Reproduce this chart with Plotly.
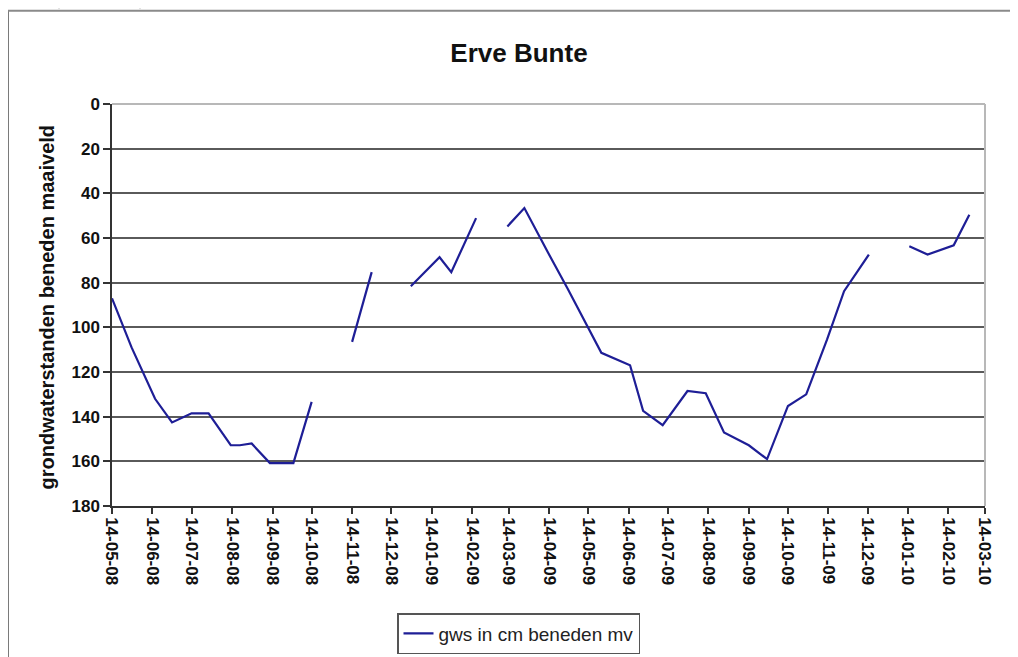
import plotly.graph_objects as go

# ---- data ----
dates = [
    "2008-05-14", "2008-05-29", "2008-06-16", "2008-06-29", "2008-07-14", "2008-07-27",
    "2008-08-13", "2008-08-20", "2008-08-29", "2008-09-12", "2008-09-30", "2008-10-14",
    "2008-10-28",
    "2008-11-14", "2008-11-29",
    "2008-12-14",
    "2008-12-29", "2009-01-20", "2009-01-29", "2009-02-17",
    "2009-03-01",
    "2009-03-13", "2009-03-26", "2009-04-13", "2009-04-28", "2009-05-24", "2009-06-15",
    "2009-06-25", "2009-07-10", "2009-07-29", "2009-08-12", "2009-08-26", "2009-09-14",
    "2009-09-28", "2009-10-14", "2009-10-28", "2009-11-13", "2009-11-26", "2009-12-15",
    "2009-12-30",
    "2010-01-15", "2010-01-29", "2010-02-18", "2010-03-02",
]
gws = [
    87, 109, 132, 142.6, 138.5, 138.5,
    152.8, 152.8, 152, 160.8, 160.8, 133.4,
    None,
    106.5, 75.3,
    None,
    81.6, 68.6, 75.3, 51.1,
    None,
    54.8, 46.6, 66.4, 82.5, 111.4, 117,
    137.4, 143.8, 128.5, 129.5, 147.1, 152.8,
    159, 135.2, 130, 105.4, 83.8, 67.4,
    None,
    63.7, 67.4, 63.3, 49.6,
]
series_name = "gws in cm beneden mv"
title_text = "Erve Bunte"
y_title = "grondwaterstanden beneden maaiveld"
x_start, x_end = "2008-05-14", "2010-03-14"

W, H = 1018, 657
OFF = 8  # page offset of the figure in the browser
# plot area in screen pixels
SX0, SX1, SY0, SY1 = 112, 985, 104, 507
L = SX0 - OFF
T = SY0 - OFF
R = W - (SX1 - OFF)
B = H - (SY1 - OFF)
PW, PH = SX1 - SX0, SY1 - SY0

def px(x):
    return (x - SX0) / PW

def py(y):
    return (SY1 - y) / PH

fig = go.Figure()
fig.add_trace(go.Scatter(
    x=dates, y=gws, mode="lines", name=series_name,
    line=dict(color="#1e1e96", width=2.2), connectgaps=False,
))

font_family = "Liberation Sans, Arial, sans-serif"

shapes = [
    dict(type="line", xref="paper", yref="paper", x0=0, x1=1, y0=1, y1=1,
         line=dict(color="#b8b8b8", width=2), layer="above"),
    dict(type="line", xref="paper", yref="paper", x0=1, x1=1, y0=0, y1=1,
         line=dict(color="#b8b8b8", width=2), layer="above"),
    dict(type="line", xref="paper", yref="paper", x0=px(8), x1=px(8), y0=py(10.5), y1=py(H + 20),
         line=dict(color="#7a7a7a", width=2)),
    dict(type="line", xref="paper", yref="paper", x0=px(8), x1=px(W + 20), y0=py(10.5), y1=py(10.5),
         line=dict(color="#8a8a8a", width=2)),
]
yy = 11.0
while yy < H:
    shapes.append(dict(type="line", xref="paper", yref="paper", x0=px(2), x1=px(7),
                       y0=py(yy), y1=py(yy), line=dict(color="#c8c8c8", width=1)))
    yy += 21.7
for xx in (59, 140):
    shapes.append(dict(type="line", xref="paper", yref="paper", x0=px(xx), x1=px(xx),
                       y0=py(9), y1=py(6), line=dict(color="#c8c8c8", width=1)))

fig.update_layout(
    width=W, height=H,
    margin=dict(l=L, r=R, t=T, b=B),
    paper_bgcolor="white", plot_bgcolor="white",
    font=dict(family=font_family, color="#111111"),
    title=dict(text=f"<b>{title_text}</b>", x=(519 - OFF) / W, xanchor="center",
               y=1 - (53 - OFF) / H, yanchor="middle", font=dict(size=26, color="#111111")),
    showlegend=True,
    legend=dict(orientation="h", x=px(397), xanchor="left", y=py(613), yanchor="top",
                bordercolor="#555555", borderwidth=1.5, bgcolor="white",
                font=dict(size=19, color="#222222"), itemwidth=30),
    shapes=shapes,
    annotations=[dict(text=f"<b>{y_title}</b>", xref="paper", yref="paper",
                      x=px(47), y=py(308), xanchor="center", yanchor="middle",
                      textangle=-90, showarrow=False, font=dict(size=20, color="#111111"))],
)

fig.update_xaxes(
    type="date", range=[x_start, x_end],
    tick0=x_start, dtick="M1", tickformat="%d-%m-%y", tickangle=90,
    ticks="outside", ticklen=6, tickcolor="#333333", tickwidth=1.5,
    showline=True, linecolor="#333333", linewidth=1.5,
    showgrid=False, zeroline=False,
    tickfont=dict(size=17, family=font_family, color="#111111", weight="bold"),
)
fig.update_yaxes(
    range=[180, 0], tick0=0, dtick=20,
    ticks="outside", ticklen=7, tickcolor="#333333", tickwidth=1.5,
    showline=True, linecolor="#333333", linewidth=1.5,
    showgrid=True, gridcolor="#5a5a5a", gridwidth=1.5, zeroline=False,
    tickfont=dict(size=17, family=font_family, color="#111111", weight="bold"),
)

fig.write_html("out.html")
